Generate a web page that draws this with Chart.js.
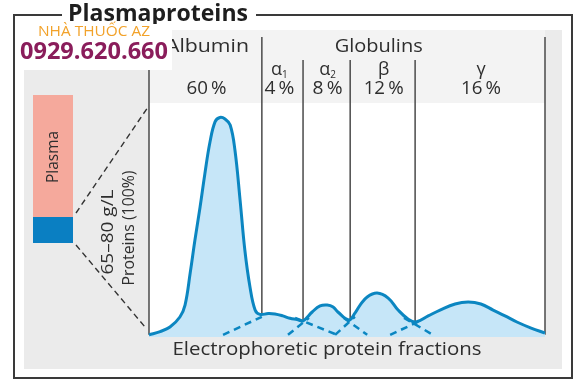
<!DOCTYPE html>
<html><head><meta charset="utf-8">
<script src="https://cdn.jsdelivr.net/npm/chart.js@4/dist/chart.umd.min.js"></script>
<style>html,body{margin:0;padding:0;background:#fff}canvas{display:block}</style>
</head><body>
<canvas id="c" width="588" height="387"></canvas>
<script>
// ---- data (relative migration 0..100, relative intensity, albumin peak = 100) ----
const curveX = [0, 2.8, 5.3, 7.8, 9.1, 10.4, 11.6, 12.9, 14.1, 15.4, 16.7, 17.9, 19.2, 20.5, 21.7, 23.0, 24.2, 25.5, 26.8, 28.0, 30.1, 31.8, 33.8, 35.6, 37.4, 38.9, 41.2, 43.2, 45.0, 46.5, 47.7, 50.5, 52.0, 53.3, 55.1, 57.6, 60.4, 62.9, 65.4, 67.4, 70.5, 73.5, 77.3, 80.6, 83.8, 86.9, 89.9, 92.9, 96.5, 100];
const curveY = [0, 1.5, 3.6, 8.2, 13.7, 28.4, 43.6, 58.8, 74.0, 88.7, 98.1, 100, 99.3, 96.5, 85.0, 62.0, 39.0, 22.0, 11.4, 9.4, 9.8, 9.6, 8.7, 7.6, 7.0, 6.4, 10.5, 13.3, 13.7, 12.8, 10.5, 6.8, 10.0, 13.7, 17.4, 19.2, 16.9, 11.4, 7.3, 5.9, 8.7, 11.4, 14.2, 15.1, 14.2, 11.4, 8.7, 5.9, 3.1, 0.8];
const tailsX = [[18.7, 28.5], [35.1, 40.4], [36.9, 47.5], [47.0, 52.0], [49.2, 55.1], [60.9, 69.0], [64.4, 71.7]];
const tailsY = [[0, 8.3], [0, 7.8], [7.8, 0], [0, 8.3], [7.8, 0], [0, 6.9], [7.8, 0]];
const fractionBounds = [0, 28.5, 38.9, 50.8, 67.2, 100];
const fractionNames = ['Albumin', 'α', 'α', 'β', 'γ'];
const fractionSubs = ['', '1', '2', '', ''];
const fractionPercents = [60, 4, 8, 12, 16];
const groupLabel = 'Globulins';

const FONT = "'Open Sans', 'Noto Sans', sans-serif";
const TXT = '#2e2e2e';

// draw text at a given font size, squeezed horizontally to a target width
function fitText(ctx, text, cx, cy, w, size, weight, color) {
  ctx.save();
  ctx.font = `${weight} ${size}px ${FONT}`;
  const m = ctx.measureText(text).width;
  ctx.translate(cx, cy);
  ctx.scale(w / m, 1);
  ctx.fillStyle = color;
  ctx.textAlign = 'center';
  ctx.textBaseline = 'middle';
  ctx.fillText(text, 0, 0);
  ctx.restore();
}

const deco = {
  id: 'deco',
  beforeDraw(chart) {
    const {ctx, scales: {x, y}} = chart;
    ctx.save();
    ctx.fillStyle = '#fff';
    ctx.fillRect(0, 0, chart.width, chart.height);
    ctx.fillStyle = '#ebebeb';
    ctx.fillRect(24, 30, 538, 339);
    const L = x.getPixelForValue(fractionBounds[0]);
    const R = x.getPixelForValue(fractionBounds[fractionBounds.length - 1]);
    ctx.fillStyle = '#f3f3f3';
    ctx.fillRect(L, 30, R - L, 73);
    const bottom = y.getPixelForValue(y.min);
    ctx.fillStyle = '#fff';
    ctx.fillRect(L, 103, R - L, bottom - 103);
    // fraction boundaries
    ctx.strokeStyle = '#4a4a4a';
    ctx.lineWidth = 1.5;
    const base = y.getPixelForValue(0);
    fractionBounds.forEach((b, i) => {
      const px = x.getPixelForValue(b);
      const top = (i === 0 || i === 1 || i === fractionBounds.length - 1) ? 37 : 60;
      ctx.beginPath();
      ctx.moveTo(px, top);
      ctx.lineTo(px, base);
      ctx.stroke();
    });
    ctx.restore();
  },
  afterDraw(chart) {
    const {ctx, scales: {x}} = chart;
    ctx.save();
    // header labels
    const c0 = x.getPixelForValue((fractionBounds[0] + fractionBounds[1]) / 2);
    fitText(ctx, fractionNames[0], c0 + 2, 47, 83, 18, 400, TXT);
    fitText(ctx, groupLabel, x.getPixelForValue(58), 47, 88, 18, 400, TXT);
    for (let i = 0; i < fractionPercents.length; i++) {
      const cx = x.getPixelForValue((fractionBounds[i] + fractionBounds[i + 1]) / 2) + (i === 1 ? -3 : 1);
      const pt = fractionPercents[i] + '\u2009%';
      const pw = fractionPercents[i] >= 10 ? 40 : 30;
      fitText(ctx, pt, cx, 89, pw, 17.5, 400, TXT);
      if (i > 0) {
        ctx.font = `400 18px ${FONT}`;
        const w = ctx.measureText(fractionNames[i]).width;
        ctx.font = `400 10px ${FONT}`;
        const ws = fractionSubs[i] ? ctx.measureText(fractionSubs[i]).width : 0;
        const start = cx - (w + ws) / 2;
        ctx.fillStyle = TXT;
        ctx.textBaseline = 'middle';
        ctx.textAlign = 'left';
        ctx.font = `400 18px ${FONT}`;
        ctx.fillText(fractionNames[i], start, 70);
        if (ws) {
          ctx.font = `400 10px ${FONT}`;
          ctx.fillText(fractionSubs[i], start + w, 75);
        }
      }
    }
    // bottom label
    fitText(ctx, 'Electrophoretic protein fractions', 327, 350, 309, 18.5, 400, TXT);
    // plasma tube
    ctx.fillStyle = '#f5a99c';
    ctx.fillRect(33, 95, 40, 122);
    ctx.fillStyle = '#0a7fc2';
    ctx.fillRect(33, 217, 40, 26);
    ctx.save();
    ctx.translate(53, 157);
    ctx.rotate(-Math.PI / 2);
    fitText(ctx, 'Plasma', 0, 0, 52, 16.5, 400, TXT);
    ctx.restore();
    // dashed connectors
    ctx.strokeStyle = '#333';
    ctx.lineWidth = 1.4;
    ctx.setLineDash([6, 4]);
    ctx.beginPath();
    ctx.moveTo(76, 213); ctx.lineTo(148, 107);
    ctx.moveTo(76, 245); ctx.lineTo(145, 327);
    ctx.stroke();
    ctx.setLineDash([]);
    ctx.save();
    ctx.translate(108, 232);
    ctx.rotate(-Math.PI / 2);
    fitText(ctx, '65–80 g/L', 0, 0, 85, 17, 400, TXT);
    ctx.restore();
    ctx.save();
    ctx.translate(129, 228);
    ctx.rotate(-Math.PI / 2);
    fitText(ctx, 'Proteins (100%)', 0, 0, 115, 17, 400, TXT);
    ctx.restore();
    // frame
    ctx.strokeStyle = '#3a3a3a';
    ctx.lineWidth = 2;
    ctx.strokeRect(14, 15, 558, 363);
    // title
    ctx.fillStyle = '#fff';
    ctx.fillRect(62, 4, 194, 18);
    ctx.save();
    ctx.font = `700 23px ${FONT}`;
    const tw = ctx.measureText('Plasmaproteins').width;
    ctx.translate(158, 21);
    ctx.scale(180 / tw, 1);
    ctx.fillStyle = '#1e1e1e';
    ctx.textAlign = 'center';
    ctx.textBaseline = 'alphabetic';
    ctx.fillText('Plasmaproteins', 0, 0);
    ctx.restore();
    // watermark
    ctx.fillStyle = '#fff';
    ctx.fillRect(15, 24, 157, 46);
    fitText(ctx, 'NHÀ THUỐC AZ', 94, 32, 112, 15, 400, '#f2a22a');
    fitText(ctx, '0929.620.660', 94, 52, 148, 23, 700, '#8a1d5b');
    ctx.restore();
  }
};

const tailDatasets = tailsX.map((xs, k) => ({
  data: xs.map((v, i) => ({x: v, y: tailsY[k][i]})),
  borderColor: '#0b86c1',
  borderWidth: 2.5,
  borderDash: [7, 5],
  pointRadius: 0,
  fill: false,
  order: 1,
  clip: false
}));

new Chart(document.getElementById('c'), {
  type: 'line',
  data: {
    datasets: [{
      data: curveX.map((v, i) => ({x: v, y: curveY[i]})),
      borderColor: '#0b86c1',
      borderWidth: 3,
      backgroundColor: '#c6e6f8',
      fill: 'start',
      pointRadius: 0,
      tension: 0.4,
      order: 0,
      clip: false
    }, ...tailDatasets]
  },
  options: {
    responsive: false,
    animation: false,
    layout: {padding: {left: 149, right: 43, top: 37, bottom: 50}},
    scales: {
      x: {type: 'linear', min: 0, max: 100, display: false},
      y: {min: -1, max: 137, display: false}
    },
    plugins: {
      legend: {display: false},
      tooltip: {enabled: false},
      filler: {drawTime: 'beforeDatasetsDraw'}
    }
  },
  plugins: [deco]
});
</script>
</body></html>
